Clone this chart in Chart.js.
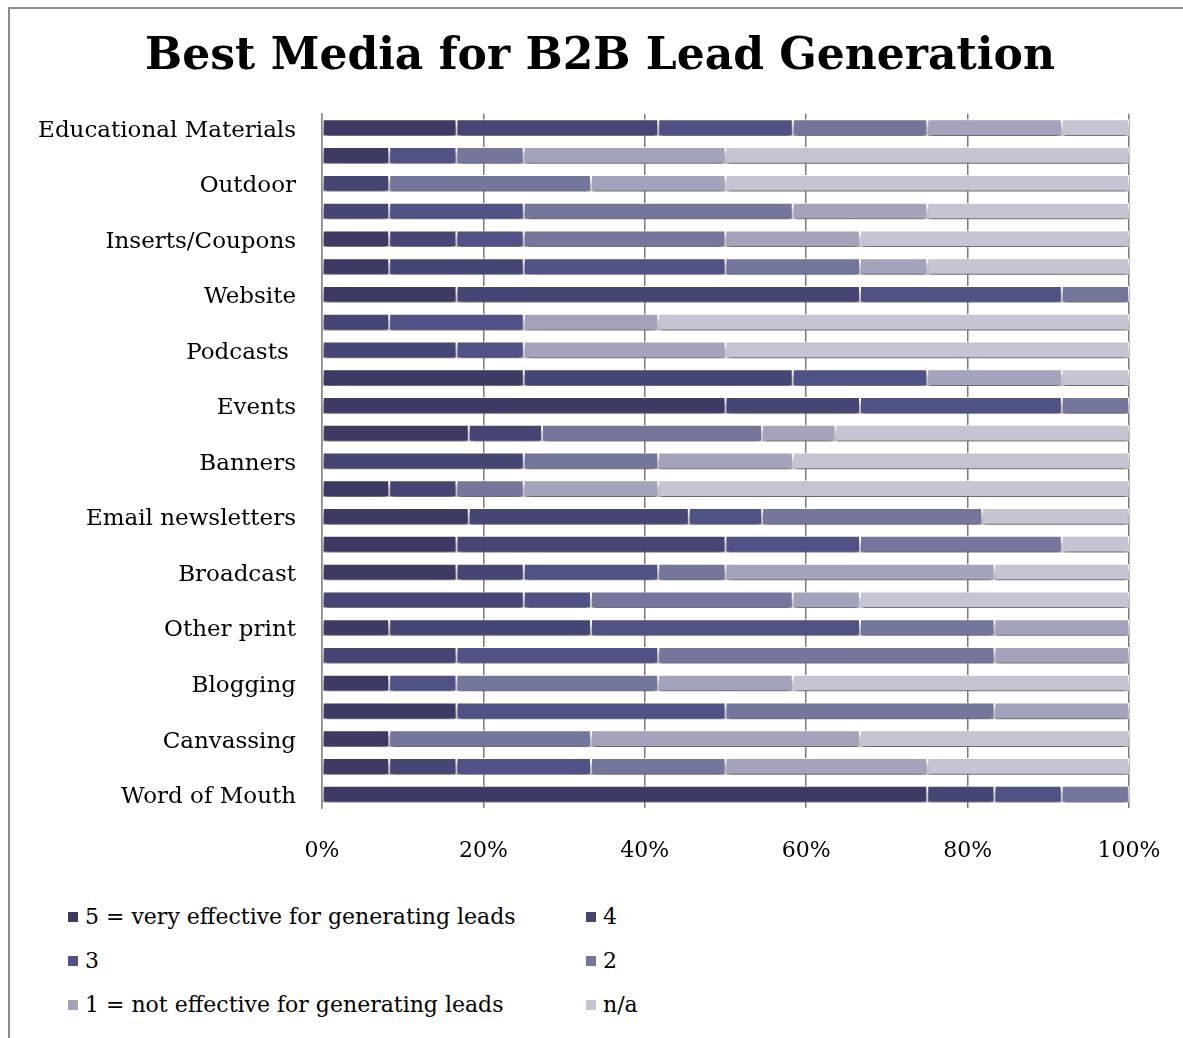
<!DOCTYPE html>
<html lang="en">
<head>
    <meta charset="UTF-8">
    <title>Best Media for B2B Lead Generation</title>
    <script src="https://cdn.jsdelivr.net/npm/chart.js"></script>
    <style>
        html, body {
            margin: 0;
            padding: 0;
            background: #ffffff;
            overflow: hidden;
            font-family: 'DejaVu Serif', serif;
        }
        .frame {
            position: absolute;
            left: 8px;
            top: 7px;
            width: 1200px;
            height: 1100px;
            border-left: 2px solid #8c8c8c;
            border-top: 2px solid #8c8c8c;
        }
        .wrap {
            position: absolute;
            left: 0;
            top: 0;
            width: 1200px;
            height: 880px;
        }
        #legend {
            position: absolute;
            left: 68px;
            top: 903px;
            display: grid;
            grid-template-columns: 518px 300px;
            row-gap: 17px;
            font-size: 22px;
            color: #000;
        }
        #legend div { display: flex; align-items: center; height: 27px; }
        #legend span.box { width: 10px; height: 10px; margin-right: 7px; display: inline-block; }
    </style>
</head>
<body>
    <div class="frame"></div>
    <div class="wrap"><canvas id="chart" width="1200" height="880"></canvas></div>
    <div id="legend"></div>

    <script>
        // categories, top to bottom (every other one has no label in the original)
        const categories = [
            'Educational Materials', '', 'Outdoor', '', 'Inserts/Coupons', '', 'Website', '',
            'Podcasts ', '', 'Events', '', 'Banners', '', 'Email newsletters', '', 'Broadcast', '',
            'Other print', '', 'Blogging', '', 'Canvassing', '', 'Word of Mouth'
        ];

        const seriesNames = [
            '5 = very effective for generating leads', '4', '3', '2',
            '1 = not effective for generating leads', 'n/a'
        ];
        const seriesColors = ['#3d3b63', '#464675', '#505184', '#75769b', '#a3a3bb', '#c4c4d3'];

        // share of answers (%) per rating
        const rating5 = [16.67, 8.33, 0, 0, 8.33, 8.33, 16.67, 0, 0, 25, 50, 18.18, 0,
                         8.33, 18.18, 16.67, 16.67, 0, 8.33, 0, 8.33, 16.67, 8.33, 8.33, 75];
        const rating4 = [25, 0, 8.33, 8.33, 8.33, 16.67, 50, 8.33, 16.67, 33.33, 16.67, 9.09, 25,
                         8.33, 27.27, 33.33, 8.33, 25, 25, 16.67, 0, 0, 0, 8.33, 8.33];
        const rating3 = [16.67, 8.33, 0, 16.67, 8.33, 25, 25, 16.67, 8.33, 16.67, 25, 0, 0,
                         0, 9.09, 16.67, 16.67, 8.33, 33.33, 25, 8.33, 33.33, 0, 16.67, 8.33];
        const rating2 = [16.67, 8.33, 25, 33.33, 25, 16.67, 8.33, 0, 0, 0, 8.33, 27.27, 16.67,
                         8.33, 27.27, 25, 8.33, 25, 16.67, 41.67, 25, 33.33, 25, 16.67, 8.33];
        const rating1 = [16.67, 25, 16.67, 16.67, 16.67, 8.33, 0, 16.67, 25, 16.67, 0, 9.09, 16.67,
                         16.67, 0, 0, 33.33, 8.33, 16.67, 16.67, 16.67, 16.67, 33.33, 25, 0];
        const ratingNA = [8.33, 50, 50, 25, 33.33, 25, 0, 58.33, 50, 8.33, 0, 36.36, 41.67,
                          58.33, 18.18, 8.33, 16.67, 33.33, 0, 0, 41.67, 0, 33.33, 25, 0];

        const xTicks = [0, 20, 40, 60, 80, 100];

        const seriesData = [rating5, rating4, rating3, rating2, rating1, ratingNA];

        Chart.defaults.font.family = "'DejaVu Serif', serif";
        Chart.defaults.color = '#000';

        // soft shadow under every bar, like the original
        const barShadow = {
            id: 'barShadow',
            beforeDatasetsDraw(chart) {
                const c = chart.ctx;
                c.save();
                c.shadowColor = 'rgba(0, 0, 0, 0.6)';
                c.shadowBlur = 5;
                c.shadowOffsetY = 5;
            },
            afterDatasetsDraw(chart) {
                chart.ctx.restore();
            }
        };

        const ctx = document.getElementById('chart').getContext('2d');
        const chart = new Chart(ctx, {
            type: 'bar',
            data: {
                labels: categories,
                datasets: seriesNames.map((name, i) => ({
                    label: name,
                    data: seriesData[i],
                    backgroundColor: seriesColors[i],
                    borderColor: '#ffffff',
                    borderWidth: 1,
                    borderSkipped: false,
                    barPercentage: 0.6,
                    categoryPercentage: 1.0,
                    clip: false
                }))
            },
            options: {
                indexAxis: 'y',
                responsive: false,
                animation: false,
                plugins: {
                    legend: { display: false },
                    tooltip: { enabled: false },
                    title: {
                        display: true,
                        text: 'Best Media for B2B Lead Generation',
                        font: { size: 44, weight: 'bold' },
                        color: '#000',
                        padding: { top: 31, bottom: 30 }
                    }
                },
                scales: {
                    x: {
                        stacked: true,
                        min: 0,
                        max: 100,
                        afterBuildTicks: s => { s.ticks = xTicks.map(v => ({ value: v })); },
                        ticks: {
                            callback: v => v + '%',
                            font: { size: 22 },
                            padding: 30
                        },
                        grid: { color: '#7a7a7a', lineWidth: 1.5, drawTicks: false },
                        border: { display: false },
                        afterFit: s => { s.height = 72; s.paddingRight = 71; s.paddingLeft = 0; }
                    },
                    y: {
                        stacked: true,
                        ticks: {
                            font: { size: 23 },
                            padding: 26,
                            labelOffset: 3,
                            autoSkip: false
                        },
                        grid: { color: 'transparent', drawTicks: false },
                        border: { display: true, color: '#8c8c8c', width: 1.5 },
                        afterFit: s => { s.width = 322; }
                    }
                }
            },
            plugins: [barShadow]
        });

        // legend in two columns under the chart
        const legendEl = document.getElementById('legend');
        chart.data.datasets.forEach(ds => {
            const item = document.createElement('div');
            const box = document.createElement('span');
            box.className = 'box';
            box.style.background = ds.backgroundColor;
            item.appendChild(box);
            item.appendChild(document.createTextNode(ds.label));
            legendEl.appendChild(item);
        });
    </script>
</body>
</html>
